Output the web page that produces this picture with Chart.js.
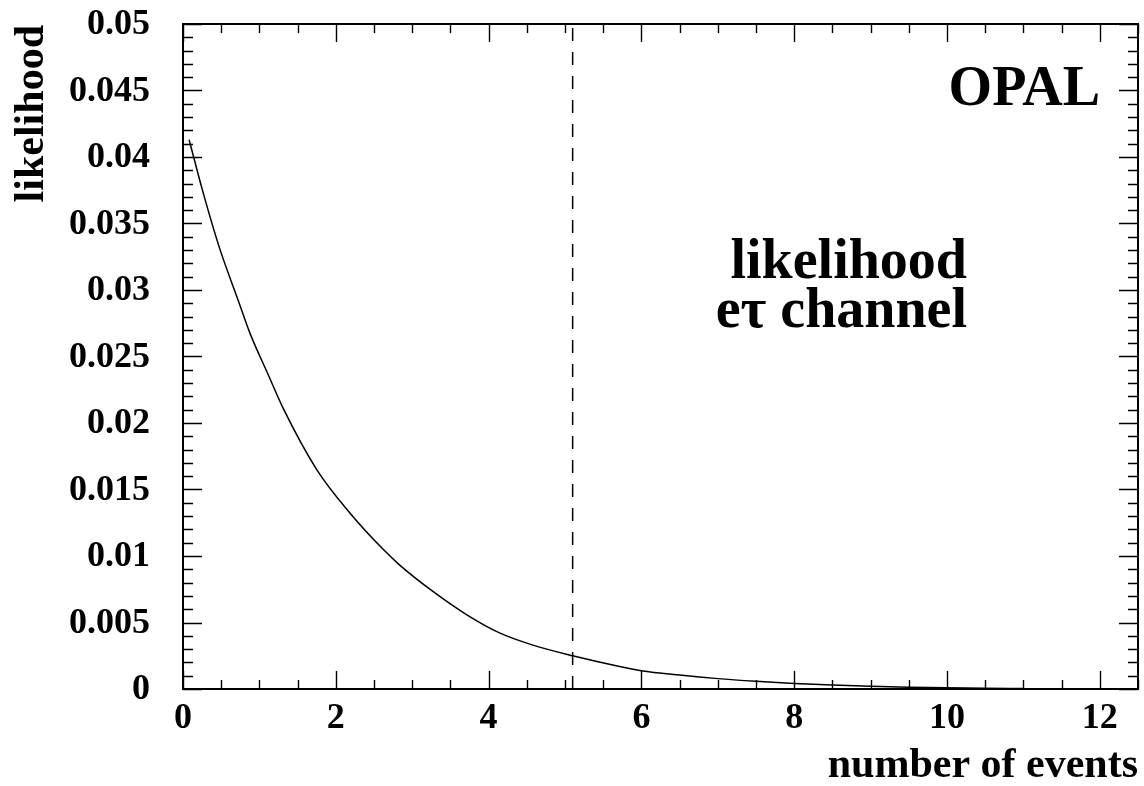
<!DOCTYPE html>
<html>
<head>
<meta charset="utf-8">
<title>likelihood - number of events</title>
<script src="https://cdn.jsdelivr.net/npm/chart.js@4.4.1/dist/chart.umd.min.js"></script>
<style>
  html, body { margin: 0; padding: 0; background: #fff; }
  #wrap { width: 1144px; height: 786px; }
</style>
</head>
<body>
<div id="wrap"><canvas id="chart" width="1144" height="786"></canvas></div>
<script>
// likelihood curve vs number of events
const eventCounts = [0.08, 0.25, 0.47, 0.73, 0.88, 1.11, 1.32, 1.75, 2.19, 2.62, 2.84, 3.28, 3.71,
  4.15, 4.58, 5.10, 5.67, 6.0, 6.5, 7.0, 7.5, 8.0, 8.5, 9.0, 9.5, 10.0, 10.5, 11.0];
const likelihoodValues = [0.0413, 0.0376, 0.0333, 0.0291, 0.0267, 0.0237, 0.0210, 0.0165, 0.0132, 0.0105, 0.0093, 0.0073, 0.0056,
  0.0042, 0.0033, 0.0025, 0.00175, 0.00138, 0.00105, 0.00078, 0.00058, 0.00042, 0.00030, 0.00021, 0.00014, 0.00009, 0.00006, 0.00004];

// observed number of events (dashed marker)
const observedEvents = 5.1;

const xTickLabels = ['0', '2', '4', '6', '8', '10', '12'];
const yTickLabels = ['0', '0.005', '0.01', '0.015', '0.02', '0.025', '0.03', '0.035', '0.04', '0.045', '0.05'];

const xMinorStep = 0.5;
const yMinorStep = 0.001;

const serif = '"Liberation Serif", "Times New Roman", serif';

const curve = eventCounts.map((x, i) => ({ x: x, y: likelihoodValues[i] }));

// frame, inward ticks, labels and captions
const framePlugin = {
  id: 'frame',
  afterDraw(chart) {
    const ctx = chart.ctx;
    const a = chart.chartArea;
    const xs = chart.scales.x;
    const ys = chart.scales.y;
    ctx.save();
    ctx.strokeStyle = '#000';
    ctx.lineWidth = 1.4;

    // minor + major ticks along x (bottom and top)
    for (let v = xs.min; v <= xs.max + 1e-9; v += xMinorStep) {
      const px = Math.round(xs.getPixelForValue(v)) + 0.5;
      const major = xTickLabels.indexOf(String(Math.round(v * 100) / 100)) >= 0;
      const len = major ? 18 : 9;
      ctx.beginPath();
      ctx.moveTo(px, a.bottom); ctx.lineTo(px, a.bottom - len);
      ctx.moveTo(px, a.top); ctx.lineTo(px, a.top + len);
      ctx.stroke();
    }
    // minor + major ticks along y (left and right)
    for (let v = ys.min; v <= ys.max + 1e-9; v += yMinorStep) {
      const py = Math.round(ys.getPixelForValue(v)) + 0.5;
      const major = yTickLabels.indexOf(String(Math.round(v * 1000) / 1000)) >= 0;
      const len = major ? 19 : 10;
      ctx.beginPath();
      ctx.moveTo(a.left, py); ctx.lineTo(a.left + len, py);
      ctx.moveTo(a.right, py); ctx.lineTo(a.right - len, py);
      ctx.stroke();
    }

    ctx.lineWidth = 2;
    ctx.strokeRect(a.left, a.top, a.right - a.left, a.bottom - a.top);

    ctx.fillStyle = '#000';
    ctx.font = 'bold 36px ' + serif;
    ctx.textAlign = 'center';
    ctx.textBaseline = 'alphabetic';
    xTickLabels.forEach(t => {
      ctx.fillText(t, xs.getPixelForValue(parseFloat(t)), 728);
    });
    ctx.textAlign = 'right';
    ctx.textBaseline = 'middle';
    yTickLabels.forEach(t => {
      ctx.fillText(t, 150, ys.getPixelForValue(parseFloat(t)) + 1);
    });

    // axis titles
    ctx.font = 'bold 42px ' + serif;
    ctx.textAlign = 'right';
    ctx.textBaseline = 'alphabetic';
    ctx.fillText('number of events', a.right, 777);
    ctx.save();
    ctx.translate(43, 25);
    ctx.rotate(-Math.PI / 2);
    ctx.fillText('likelihood', 0, 0);
    ctx.restore();

    // captions inside the frame
    ctx.font = 'bold 56px ' + serif;
    ctx.fillText('OPAL', 1100, 105);
    ctx.fillText('likelihood', 967, 278);
    ctx.fillText('e\u03C4 channel', 967, 327);
    ctx.restore();
  }
};

new Chart(document.getElementById('chart'), {
  type: 'line',
  data: {
    datasets: [
      {
        label: 'likelihood',
        data: curve,
        borderColor: '#000',
        borderWidth: 1.5,
        pointRadius: 0,
        cubicInterpolationMode: 'monotone',
        fill: false
      },
      {
        label: 'observed',
        data: [{ x: observedEvents, y: 0 }, { x: observedEvents, y: 0.05 }],
        borderColor: '#000',
        borderWidth: 1.5,
        borderDash: [13, 11],
        pointRadius: 0,
        fill: false
      }
    ]
  },
  options: {
    responsive: false,
    animation: false,
    layout: { padding: { left: 183, top: 24, right: 6, bottom: 97 } },
    scales: {
      x: { type: 'linear', min: 0, max: 12.5, display: false },
      y: { type: 'linear', min: 0, max: 0.05, display: false }
    },
    plugins: {
      legend: { display: false },
      tooltip: { enabled: false }
    }
  },
  plugins: [framePlugin]
});
</script>
</body>
</html>
